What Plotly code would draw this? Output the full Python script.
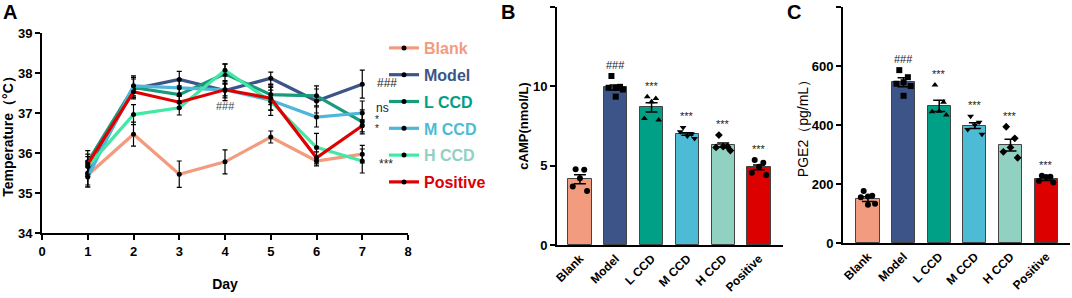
import plotly.graph_objects as go

# ---------------- data ----------------
groups = ["Blank", "Model", "L CCD", "M CCD", "H CCD", "Positive"]
days = [1, 2, 3, 4, 5, 6, 7]

temp_blank = [35.45, 36.47, 35.47, 35.78, 36.40, 35.80, 35.97]
temp_model = [35.50, 37.60, 37.84, 37.56, 37.87, 37.30, 37.72]
temp_lccd = [35.78, 37.64, 37.46, 37.98, 37.46, 37.43, 36.78]
temp_mccd = [35.40, 37.68, 37.63, 37.58, 37.32, 36.90, 37.00]
temp_hccd = [35.66, 36.96, 37.13, 38.07, 37.29, 36.14, 35.80]
temp_pos = [35.72, 37.53, 37.27, 37.58, 37.37, 35.88, 36.68]

err_blank = [0.30, 0.30, 0.33, 0.30, 0.15, 0.12, 0.22]
err_model = [0.30, 0.25, 0.20, 0.25, 0.15, 0.30, 0.35]
err_lccd = [0.28, 0.25, 0.22, 0.25, 0.25, 0.25, 0.30]
err_mccd = [0.25, 0.25, 0.20, 0.20, 0.25, 0.25, 0.30]
err_hccd = [0.25, 0.25, 0.18, 0.15, 0.35, 0.35, 0.30]
err_pos = [0.25, 0.15, 0.15, 0.15, 0.30, 0.15, 0.15]

camp_points = [
    [4.77, 4.75, 4.20, 3.68, 3.40],
    [10.65, 9.97, 9.91, 9.91, 9.80, 9.35],
    [9.35, 9.24, 9.03, 7.98, 7.88],
    [7.41, 6.99, 6.87, 7.14, 6.72],
    [6.93, 6.20, 6.20, 6.15, 5.95],
    [5.36, 5.19, 4.93, 4.56, 4.41],
]
camp_mean = [4.14, 9.93, 8.67, 6.99, 6.30, 4.89]
camp_sem = [0.28, 0.16, 0.29, 0.08, 0.13, 0.15]
camp_marks = ["", "###", "***", "***", "***", "***"]

pge2_points = [
    [176, 160, 158, 155, 133, 130],
    [586, 562, 545, 540, 532, 499],
    [536, 477, 447, 445, 434],
    [430, 409, 400, 385, 369],
    [394, 355, 324, 309, 289],
    [228, 225, 224, 210, 205],
]
pge2_mean = [149, 545, 465, 398, 332, 217]
pge2_sem = [8, 15, 19, 10, 20, 5]
pge2_marks = ["", "###", "***", "***", "***", "***"]

day7_marks = ["###", "ns", "*", "*", "***"]

# ---------------- style ----------------
bar_colors = ["#F39B7F", "#3C5488", "#00A087", "#4DBBD5", "#91D1C2", "#DC0000"]
line_colors = ["#F39B7F", "#3C5488", "#1A9A7C", "#4DB6DA", "#44E8A6", "#E00000"]
text_colors = ["#F39B7F", "#3C5488", "#00A087", "#4DBBD5", "#91D1C2", "#DC0000"]
symbols = ["circle", "square", "triangle-up", "triangle-down", "diamond", "circle"]
jitter = [-0.12, 0.12, 0.0, -0.2, 0.2, 0.0]
FONT = "Arial, Liberation Sans, sans-serif"

W, H = 1072, 298
def px(x):
    return x / W
def py(y):
    return 1 - y / H

fig = go.Figure()

# ---------- Panel A ----------
temps = [temp_blank, temp_model, temp_lccd, temp_mccd, temp_hccd, temp_pos]
errs = [err_blank, err_model, err_lccd, err_mccd, err_hccd, err_pos]
for i, g in enumerate(groups):
    fig.add_trace(go.Scatter(
        x=days, y=temps[i], mode="lines+markers",
        name=f"<span style='color:{text_colors[i]}'><b>{g}</b></span>",
        legendgroup=g,
        line=dict(color=line_colors[i], width=3.2),
        marker=dict(color="black", size=5),
        error_y=dict(type="data", array=errs[i], color="black", thickness=1.2, width=2.5),
        xaxis="x", yaxis="y",
    ))

fig.add_annotation(x=4, y=37.18, text="###", showarrow=False, xref="x", yref="y",
                   font=dict(size=11, color="#444", family=FONT))
day7_y = [37.75, 37.12, 36.84, 36.62, 35.73]
day7_x = [7.27, 7.25, 7.33, 7.33, 7.32]
for t, xx, yy in zip(day7_marks, day7_x, day7_y):
    fig.add_annotation(x=xx, y=yy, text=t, showarrow=False, xref="x", yref="y",
                       xanchor="left" if t != "*" else "center",
                       font=dict(size=12 if t != "*" else 10, color="#222", family=FONT))

# ---------- Panels B, C ----------
def bar_panel(mean, sem, pts, marks, xa, ya, mark_off):
    fig.add_trace(go.Bar(
        x=list(range(len(groups))), y=mean, width=0.65,
        marker=dict(color=bar_colors, line=dict(color="#444", width=1)),
        error_y=dict(type="data", array=sem, color="black", thickness=1.5, width=6),
        showlegend=False, xaxis=xa, yaxis=ya,
    ))
    for i in range(len(groups)):
        xs = [i + jitter[k % len(jitter)] for k in range(len(pts[i]))]
        fig.add_trace(go.Scatter(
            x=xs, y=pts[i], mode="markers",
            marker=dict(color="black", size=6, symbol=symbols[i]),
            showlegend=False, xaxis=xa, yaxis=ya,
        ))
        if marks[i]:
            top = max(pts[i])
            fig.add_annotation(x=i, y=top, text=marks[i], showarrow=False,
                               xref=xa, yref=ya, yshift=mark_off,
                               font=dict(size=11, color="#222", family=FONT))

bar_panel(camp_mean, camp_sem, camp_points, camp_marks, "x2", "y2", 11)
bar_panel(pge2_mean, pge2_sem, pge2_points, pge2_marks, "x3", "y3", 11)

tickfont = dict(family=FONT, size=13, color="black", weight="bold")
axis_common = dict(showline=True, linecolor="black", linewidth=2, ticks="outside",
                   tickcolor="black", tickwidth=2, ticklen=5, showgrid=False,
                   zeroline=False, tickfont=tickfont, automargin=False)
xbar_common = dict(tickvals=list(range(6)), ticktext=groups, tickangle=-45,
                   showline=True, linecolor="black", linewidth=2, ticks="",
                   showgrid=False, zeroline=False, automargin=False,
                   tickfont=dict(family=FONT, size=12, color="black", weight="bold"))

fig.update_layout(
    width=W, height=H, margin=dict(l=0, r=0, t=0, b=0, autoexpand=False),
    paper_bgcolor="white", plot_bgcolor="white",
    font=dict(family=FONT, color="black"),
    bargap=0,
    xaxis=dict(domain=[px(42), px(408)], range=[0, 8], tickvals=list(range(9)),
               anchor="y",
               title=dict(text="<b>Day</b>", font=dict(size=14), standoff=22),
               **axis_common),
    yaxis=dict(domain=[py(233), py(33)], range=[34, 39], tickvals=[34, 35, 36, 37, 38, 39],
               anchor="x",
               title=dict(text="<b>Temperature（°C）</b>", font=dict(size=14), standoff=8),
               **axis_common),
    xaxis2=dict(domain=[px(557), px(783)], range=[-0.64, 5.67], anchor="y2", **xbar_common),
    yaxis2=dict(domain=[py(245), py(7)], range=[0, 15], tickvals=[0, 5, 10, 15], anchor="x2",
                title=dict(text="<b>cAMP(nmol/L)</b>", font=dict(size=13), standoff=1),
                **axis_common),
    xaxis3=dict(domain=[px(843), px(1070)], range=[-0.70, 5.67], anchor="y3", **xbar_common),
    yaxis3=dict(domain=[py(243), py(7)], range=[0, 800], tickvals=[0, 200, 400, 600, 800],
                anchor="x3",
                title=dict(text="PGE2（pg/mL）", font=dict(size=14), standoff=0),
                **axis_common),
    legend=dict(x=px(384), y=py(31), xanchor="left", yanchor="top",
                font=dict(size=16, family=FONT), tracegroupgap=3,
                bgcolor="rgba(0,0,0,0)", itemwidth=30),
)

for lab, x in [("A", 10), ("B", 508), ("C", 794)]:
    fig.add_annotation(x=px(x), y=1, xref="paper", yref="paper", text=f"<b>{lab}</b>",
                       yanchor="top", yshift=1, xanchor="center",
                       showarrow=False, font=dict(size=20, color="black", family=FONT))

fig.write_html("out.html", post_script="document.body.style.margin='0px';",
               config={"displayModeBar": False})
